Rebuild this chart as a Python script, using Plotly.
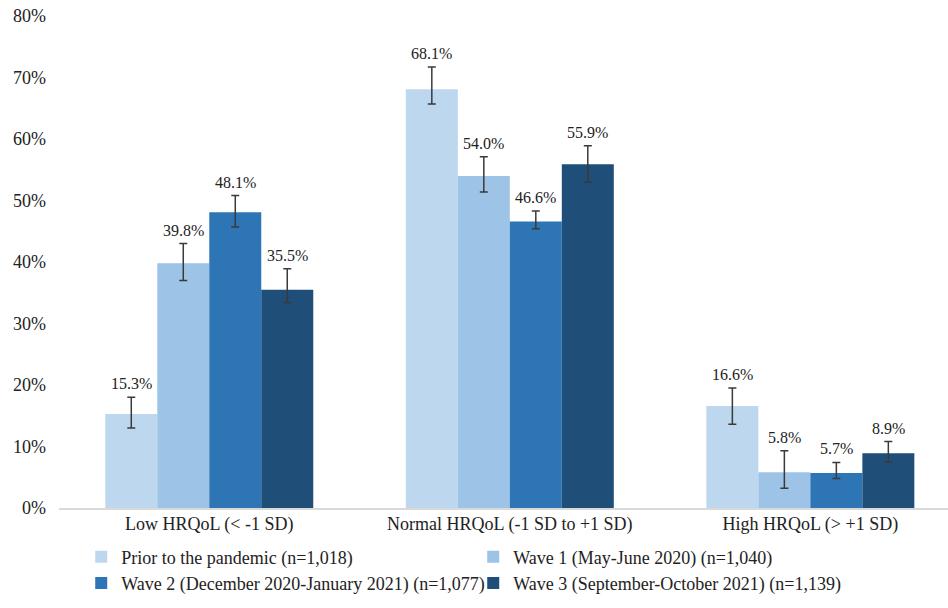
import plotly.graph_objects as go

categories = ["Low HRQoL (< -1 SD)", "Normal HRQoL (-1 SD to +1 SD)", "High HRQoL (> +1 SD)"]
series_names = [
    "Prior to the pandemic (n=1,018)",
    "Wave 1 (May-June 2020) (n=1,040)",
    "Wave 2 (December 2020-January 2021) (n=1,077)",
    "Wave 3 (September-October 2021) (n=1,139)",
]
prior = [15.3, 68.1, 16.6]
wave1 = [39.8, 54.0, 5.8]
wave2 = [48.1, 46.6, 5.7]
wave3 = [35.5, 55.9, 8.9]

prior_err_plus = [2.7, 3.6, 2.9]
prior_err_minus = [2.3, 2.4, 3.0]
wave1_err_plus = [3.2, 3.1, 3.5]
wave1_err_minus = [2.8, 2.6, 2.6]
wave2_err_plus = [2.7, 1.7, 1.7]
wave2_err_minus = [2.4, 1.2, 0.9]
wave3_err_plus = [3.4, 3.0, 1.9]
wave3_err_minus = [2.1, 2.9, 1.4]

y_ticks = [0, 10, 20, 30, 40, 50, 60, 70, 80]
y_tick_labels = [f"{t}%" for t in y_ticks]

colors = ["#BDD7EE", "#9DC3E6", "#2E75B6", "#1F4E79"]

values = [prior, wave1, wave2, wave3]
eplus = [prior_err_plus, wave1_err_plus, wave2_err_plus, wave3_err_plus]
eminus = [prior_err_minus, wave1_err_minus, wave2_err_minus, wave3_err_minus]

FONT = "Liberation Serif"
fig = go.Figure()
for name, vals, ep, em, c in zip(series_names, values, eplus, eminus, colors):
    fig.add_trace(go.Bar(
        x=categories, y=vals, name=name, marker=dict(color=c, line=dict(width=0)),
        error_y=dict(type="data", array=ep, arrayminus=em, color="#3a3a3a",
                     thickness=1.5, width=4),
    ))

# data labels above error bars
n = len(values)
for i, (vals, ep) in enumerate(zip(values, eplus)):
    for j, v in enumerate(vals):
        fig.add_annotation(
            x=j, y=v + ep[j], text=f"{v:.1f}%", showarrow=False,
            xref="x", yref="y", yanchor="bottom", yshift=3,
            xshift=(i - (n - 1) / 2) * 52,
            font=dict(family=FONT, size=16, color="#222"),
        )

fig.update_layout(
    width=948, height=608,
    margin=dict(l=59, r=0, t=16, b=100, autoexpand=False),
    paper_bgcolor="white", plot_bgcolor="white",
    barmode="group", bargap=0.308, bargroupgap=0,
    font=dict(family=FONT, size=18, color="#222"),
    showlegend=True,
    legend=dict(orientation="h", x=0.025, y=-0.062, xanchor="left", yanchor="top",
                entrywidth=347, entrywidthmode="pixels", tracegroupgap=0,
                font=dict(family=FONT, size=18, color="#222"), traceorder="normal"),
)
fig.update_xaxes(type="category", range=[-0.5, 2.458], showline=True, linecolor="#d9d9d9",
                 linewidth=1.5, ticks="", showgrid=False, tickfont=dict(size=18),
                 ticklabelstandoff=-1, automargin=False)
fig.update_yaxes(range=[0, 80], tickvals=y_ticks, ticktext=y_tick_labels,
                 showgrid=False, zeroline=False, showline=False, ticks="", ticklabelstandoff=12,
                 tickfont=dict(size=18), automargin=False, ticklabeloverflow="allow")

fig.write_html("out.html", config={"displayModeBar": False},
               post_script="document.body.style.margin='0';document.body.style.overflow='hidden';")
